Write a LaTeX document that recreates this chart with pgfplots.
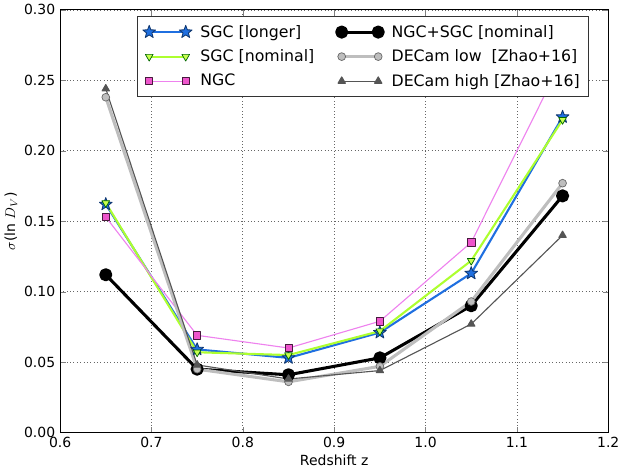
\documentclass[border=0pt]{standalone}
\usepackage{fontspec}
\setmainfont{DejaVu Sans}
\usepackage{pgfplots}
\pgfplotsset{compat=1.18}
\definecolor{sgcblue}{HTML}{1F6FE0}
\definecolor{sgcgreen}{HTML}{ADFF2F}
\definecolor{sgcgreenfill}{HTML}{C8FF50}
\definecolor{ngcline}{HTML}{EE82EE}
\definecolor{ngcfill}{HTML}{EE55CC}
\definecolor{declow}{HTML}{BEBEBE}
\definecolor{dechigh}{HTML}{555555}
\pgfdeclareplotmark{fstar}{%
  \pgfpathmoveto{\pgfqpointpolar{90}{\pgfplotmarksize}}%
  \pgfpathlineto{\pgfqpointpolar{126}{0.42\pgfplotmarksize}}%
  \pgfpathlineto{\pgfqpointpolar{162}{\pgfplotmarksize}}%
  \pgfpathlineto{\pgfqpointpolar{198}{0.42\pgfplotmarksize}}%
  \pgfpathlineto{\pgfqpointpolar{234}{\pgfplotmarksize}}%
  \pgfpathlineto{\pgfqpointpolar{270}{0.42\pgfplotmarksize}}%
  \pgfpathlineto{\pgfqpointpolar{306}{\pgfplotmarksize}}%
  \pgfpathlineto{\pgfqpointpolar{342}{0.42\pgfplotmarksize}}%
  \pgfpathlineto{\pgfqpointpolar{18}{\pgfplotmarksize}}%
  \pgfpathlineto{\pgfqpointpolar{54}{0.42\pgfplotmarksize}}%
  \pgfpathclose
  \pgfusepathqfillstroke}
\begin{document}
\begin{tikzpicture}
\fontsize{10}{12}\selectfont
\begin{axis}[
  name=ax,
  scale only axis,
  width=393pt, height=303pt,
  xmin=0.6, xmax=1.2, ymin=0, ymax=0.30,
  xtick={0.6,0.7,...,1.21}, ytick={0,0.05,...,0.31},
  /pgf/number format/assume math mode=true,
  xticklabel style={/pgf/number format/.cd,fixed,fixed zerofill,precision=1},
  yticklabel style={/pgf/number format/.cd,fixed,fixed zerofill,precision=2},
  tick label style={font=\fontsize{10}{12}\selectfont},
  label style={font=\fontsize{10}{12}\selectfont},
  tick align=inside, major tick length=4pt,
  grid=major, grid style={dotted, black!60, line width=0.5pt},
  axis line style={line width=0.8pt},
  xlabel={Redshift z}, ylabel={$\sigma$(ln $D_V$)},
  xlabel style={yshift=2pt}, ylabel style={yshift=-2pt},
  legend columns=3, transpose legend, legend cell align=left,
  legend style={at={(rel axis cs:0.14,0.985)}, anchor=north west,
    font=\fontsize{11.3}{13.5}\selectfont, draw=black!80, line width=0.6pt,
    /tikz/every odd column/.append style={column sep=4pt},
    /tikz/every even column/.append style={column sep=14pt},
    row sep=3.5pt, inner sep=4pt},
  legend image code/.code={\draw[mark repeat=2,mark phase=1] plot coordinates {(0cm,0cm) (0.46cm,0cm) (0.92cm,0cm)};},
  every axis plot/.append style={line join=round},
]
\addplot[sgcblue, line width=1.5pt, mark=fstar, mark size=4.8pt, mark options={fill=sgcblue, draw=sgcblue!50!black, line width=0.6pt}]
  coordinates {(0.65,0.162) (0.75,0.059) (0.85,0.053) (0.95,0.071) (1.05,0.113) (1.15,0.224)};
\addlegendentry{SGC [longer]}
\addplot[sgcgreen, line width=1.5pt, mark=triangle*, mark size=3.2pt, mark options={rotate=180, fill=sgcgreenfill, draw=black!60!green, line width=0.5pt}]
  coordinates {(0.65,0.163) (0.75,0.057) (0.85,0.055) (0.95,0.072) (1.05,0.122) (1.15,0.222)};
\addlegendentry{SGC [nominal]}
\addplot[ngcline, line width=0.8pt, mark=square*, mark size=2.6pt, mark options={fill=ngcfill, draw=black!70!ngcfill, line width=0.5pt}]
  coordinates {(0.65,0.153) (0.75,0.069) (0.85,0.060) (0.95,0.079) (1.05,0.135) (1.15,0.265)};
\addlegendentry{NGC}
\addplot[black, line width=2.2pt, mark=*, mark size=3.6pt, mark options={fill=black}]
  coordinates {(0.65,0.112) (0.75,0.045) (0.85,0.041) (0.95,0.053) (1.05,0.090) (1.15,0.168)};
\addlegendentry{NGC+SGC [nominal]}
\addplot[declow, line width=2.2pt, mark=*, mark size=2.8pt, mark options={fill=declow, draw=black!60, line width=0.5pt}]
  coordinates {(0.65,0.238) (0.75,0.045) (0.85,0.036) (0.95,0.047) (1.05,0.093) (1.15,0.177)};
\addlegendentry{DECam low\ \ [Zhao+16]}
\addplot[dechigh, line width=0.8pt, mark=triangle*, mark size=3pt, mark options={fill=dechigh, draw=dechigh}]
  coordinates {(0.65,0.244) (0.75,0.048) (0.85,0.038) (0.95,0.044) (1.05,0.077) (1.15,0.140)};
\addlegendentry{DECam high [Zhao+16]}
\end{axis}
\end{tikzpicture}
\end{document}
